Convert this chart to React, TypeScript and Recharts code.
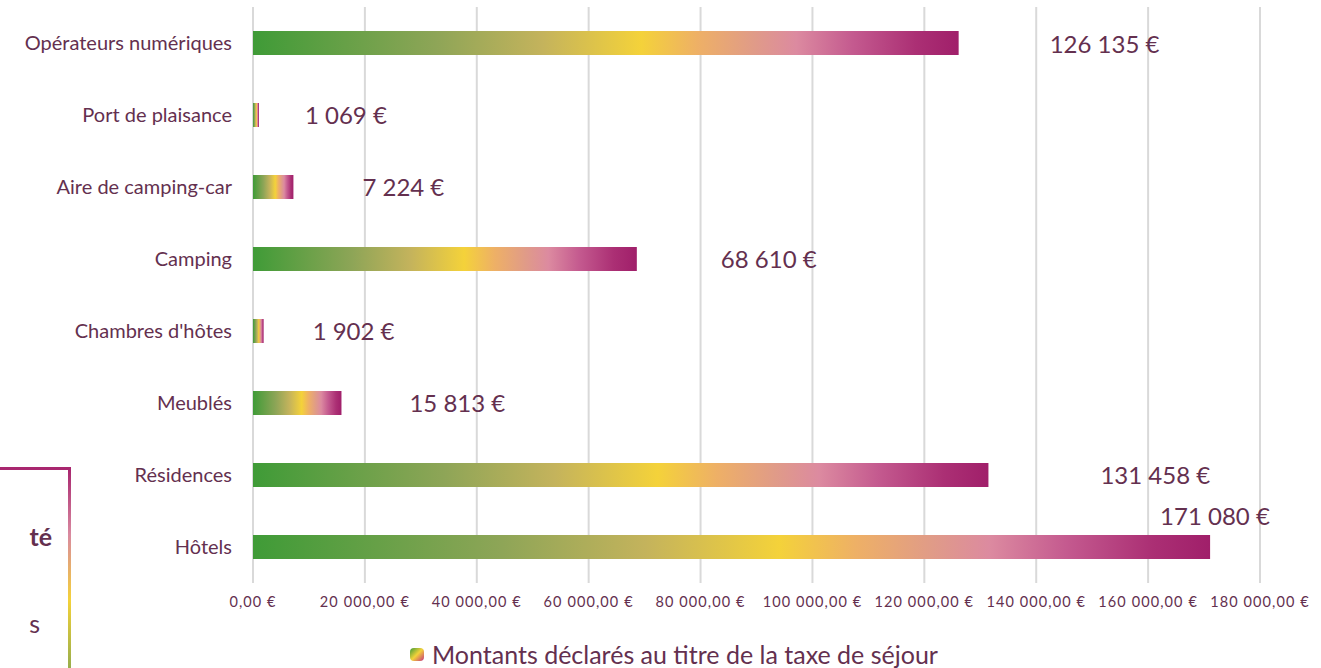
import { BarChart, Bar, XAxis, YAxis, CartesianGrid, LabelList } from "recharts";

const categories = [
  "Opérateurs numériques",
  "Port de plaisance",
  "Aire de camping-car",
  "Camping",
  "Chambres d'hôtes",
  "Meublés",
  "Résidences",
  "Hôtels",
];
const amounts = [126135, 1069, 7224, 68610, 1902, 15813, 131458, 171080];
const xTicks = [0, 20000, 40000, 60000, 80000, 100000, 120000, 140000, 160000, 180000];
const seriesName = "Montants déclarés au titre de la taxe de séjour";

// hand-placed label nudges, like the original sheet
const labelShift: Record<string, [number, number]> = {
  "Opérateurs numériques": [91, 0],
  "Port de plaisance": [46, -1],
  "Aire de camping-car": [69, -1],
  Camping: [84, -1],
  "Chambres d'hôtes": [49, -1],
  Meublés: [68, -1],
  Résidences: [112, -1],
  Hôtels: [-50, -32],
};

const data = categories.map((name, i) => ({ name, value: amounts[i] }));

const TEXT = "#64304f";
const FONT = "Lato, 'Open Sans', sans-serif";

const groupThousands = (n: number) =>
  Math.round(n)
    .toString()
    .replace(/\B(?=(\d{3})+(?!\d))/g, "\u00a0");

const tickFmt = (v: number) => `${groupThousands(v)},00\u00a0€`;

function ValueLabel(props: any) {
  const { x, y, width, height, value, index } = props;
  const [dx, dy] = labelShift[categories[index]] ?? [60, 0];
  return (
    <text
      x={x + width + dx}
      y={y + height / 2 + dy}
      fill={TEXT}
      fontSize={24}
      fontFamily={FONT}
      dominantBaseline="central"
    >
      {`${groupThousands(value)}\u00a0€`}
    </text>
  );
}

export default function App() {
  return (
    <div style={{ position: "relative", width: 1321, height: 668, overflow: "hidden", fontFamily: FONT }}>
      <style>{`body{margin:0}`}</style>
      <BarChart
        width={1321}
        height={668}
        data={data}
        layout="vertical"
        margin={{ top: 7, right: 61, left: 0, bottom: 55 }}
        barCategoryGap={0}
      >
        <defs>
          <linearGradient id="barGrad" x1="0" y1="0" x2="1" y2="0">
            <stop offset="0%" stopColor="#3f9b37" />
            <stop offset="26%" stopColor="#8ea557" />
            <stop offset="41%" stopColor="#c4b35c" />
            <stop offset="55%" stopColor="#f4d23a" />
            <stop offset="63%" stopColor="#eeb066" />
            <stop offset="71%" stopColor="#e09b88" />
            <stop offset="77%" stopColor="#dc8aa0" />
            <stop offset="85%" stopColor="#c45a8f" />
            <stop offset="94%" stopColor="#ab2f74" />
            <stop offset="100%" stopColor="#a01f6a" />
          </linearGradient>
        </defs>
        <CartesianGrid horizontal={false} stroke="#d9d9d9" strokeWidth={2} />
        <XAxis
          type="number"
          domain={[0, 180000]}
          ticks={xTicks}
          tickFormatter={tickFmt}
          axisLine={false}
          tickLine={false}
          interval={0}
          height={30}
          tick={{ fill: TEXT, fontSize: 14.5, fontFamily: FONT, letterSpacing: 1.1 }}
          tickMargin={8}
        />
        <YAxis
          type="category"
          dataKey="name"
          width={253}
          axisLine={false}
          tickLine={false}
          tickMargin={15}
          interval={0}
          tick={{ fill: TEXT, fontSize: 20, fontFamily: FONT }}
        />
        <Bar dataKey="value" name={seriesName} fill="url(#barGrad)" barSize={24} isAnimationActive={false}>
          <LabelList dataKey="value" content={<ValueLabel />} />
        </Bar>
      </BarChart>

      {/* legend */}
      <div
        style={{
          position: "absolute",
          left: 410,
          top: 639,
          display: "flex",
          alignItems: "center",
          color: TEXT,
          fontSize: 25,
          whiteSpace: "nowrap",
        }}
      >
        <span
          style={{
            display: "inline-block",
            width: 14,
            height: 13,
            borderRadius: 4,
            marginRight: 8,
            background: "linear-gradient(135deg, #3f9b37 0%, #f4d23a 50%, #c4337e 100%)",
          }}
        />
        {seriesName}
      </div>

      {/* side panel, mostly off the left edge */}
      <div
        style={{
          position: "absolute",
          left: -200,
          top: 467,
          width: 268,
          height: 260,
          borderTop: "3px solid #a8266f",
          borderRight: "3px solid transparent",
          borderImage:
            "linear-gradient(to bottom, #a8266f 0%, #d98aa0 25%, #f4d23a 50%, #8aa84e 80%, #6a9e3c 100%) 1",
          borderLeft: "none",
          borderBottom: "none",
          color: TEXT,
        }}
      >
        <div style={{ position: "absolute", right: 16, top: 51, fontSize: 25, fontWeight: 700 }}>té</div>
        <div style={{ position: "absolute", right: 28, top: 138, fontSize: 25 }}>s</div>
      </div>
    </div>
  );
}
